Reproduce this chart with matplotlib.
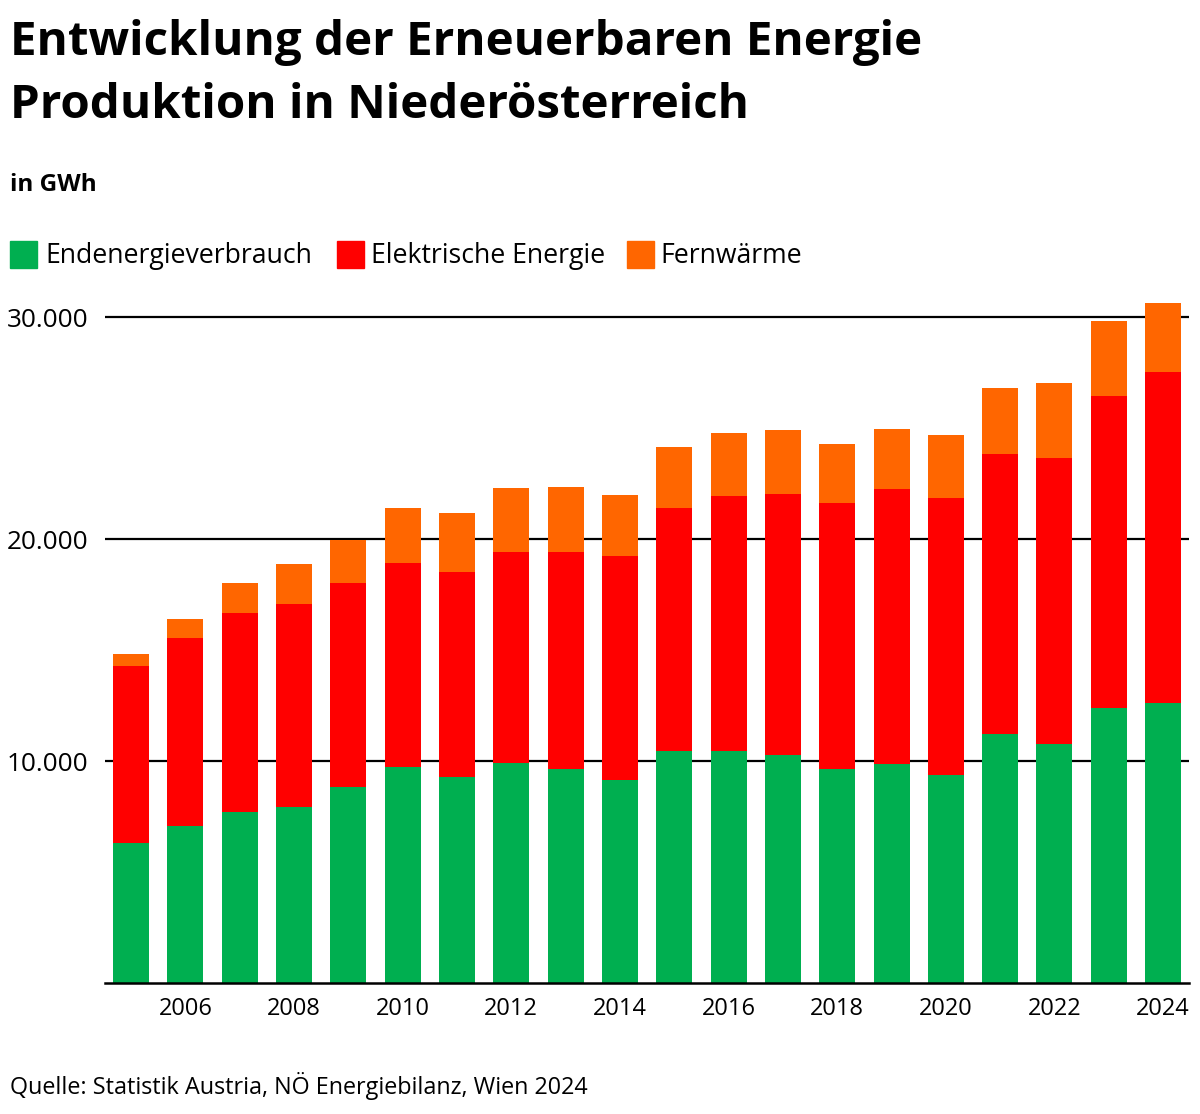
import matplotlib
matplotlib.use("Agg")
import matplotlib.pyplot as plt
from matplotlib.patches import Rectangle
from matplotlib.ticker import FuncFormatter

years = list(range(2005, 2025))
endenergie_top = [6295, 7059, 7703, 7914, 8813, 9712, 9263, 9906, 9622, 9128,
                  10432, 10432, 10252, 9622, 9847, 9353, 11241, 10746, 12410, 12603]
elektrisch_top = [14299, 15558, 16682, 17086, 18031, 18930, 18525, 19424, 19424, 19245,
                  21403, 21942, 22046, 21628, 22257, 21853, 23831, 23651, 26439, 27518]
fernwaerme_top = [14838, 16412, 18031, 18885, 19978, 21403, 21178, 22302, 22347, 21987,
                  24146, 24775, 24910, 24281, 24955, 24685, 26799, 27023, 29811, 30620]

endenergie = endenergie_top
elektrisch = [e - g for e, g in zip(elektrisch_top, endenergie_top)]
fernwaerme = [f - e for f, e in zip(fernwaerme_top, elektrisch_top)]

series_names = ["Endenergieverbrauch", "Elektrische Energie", "Fernwärme"]
colors = ["#00AF50", "#FF0000", "#FF6600"]
yticks = [10000, 20000, 30000]
xticks = list(range(2006, 2025, 2))

plt.rcParams['font.family'] = ['Open Sans', 'DejaVu Sans']

fig = plt.figure(figsize=(12, 11.14), dpi=100)
ax = fig.add_axes([0.0875, 0.1176, 0.9035, 0.6176])

w = 0.663
ax.bar(years, endenergie, width=w, color=colors[0], zorder=3)
ax.bar(years, elektrisch, width=w, bottom=endenergie, color=colors[1], zorder=3)
bott = [a + b for a, b in zip(endenergie, elektrisch)]
ax.bar(years, fernwaerme, width=w, bottom=bott, color=colors[2], zorder=3)

ax.set_xlim(2004.52, 2024.48)
ax.set_ylim(0, 31000)
for yv in yticks:
    ax.axhline(yv, color="black", lw=1.6, zorder=1)
ax.axhline(0, color="black", lw=1.8, zorder=4, clip_on=False)

for s in ax.spines.values():
    s.set_visible(False)
ax.set_yticks(yticks)
ax.yaxis.set_major_formatter(FuncFormatter(lambda v, p: f"{int(v):,}".replace(",", ".")))
ax.set_xticks(xticks)
ax.tick_params(axis='both', length=0, colors="black")
ax.tick_params(axis='y', pad=12, labelsize=18.8)
ax.tick_params(axis='x', pad=10, labelsize=17)

fig.text(10/1200, 1 - 43/1114, "Entwicklung der Erneuerbaren Energie", fontsize=34.2,
         fontweight='bold', va='center', ha='left')
fig.text(10/1200, 1 - 106/1114, "Produktion in Niederösterreich", fontsize=34.2,
         fontweight='bold', va='center', ha='left')
fig.text(10/1200, 1 - 185/1114, "in GWh", fontsize=17.5, fontweight='bold', va='center', ha='left')

# legend
leg_items = [(10, 45), (337, 371), (627, 660)]
for (sx, tx), name, col in zip(leg_items, series_names, colors):
    fig.patches.append(Rectangle((sx/1200, 1 - 268/1114), 27/1200, 27/1114,
                                 transform=fig.transFigure, color=col, figure=fig))
    fig.text(tx/1200, 1 - 256/1114, name, fontsize=19.2, va='center', ha='left')

fig.text(10/1200, 1 - 1086/1114, "Quelle: Statistik Austria, NÖ Energiebilanz, Wien 2024",
         fontsize=16.8, va='center', ha='left')

fig.savefig("out.png", dpi=100, facecolor="white")
